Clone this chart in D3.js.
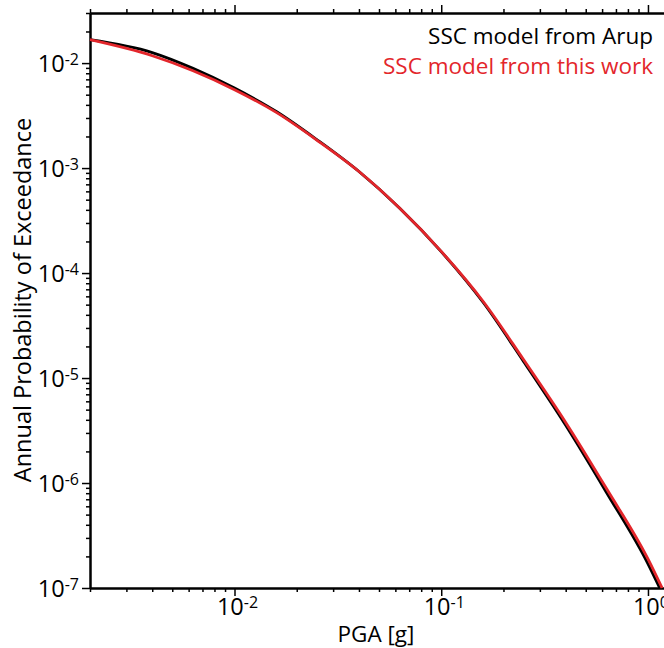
<!DOCTYPE html>
<html>
<head>
<meta charset="utf-8">
<script src="https://cdn.jsdelivr.net/npm/d3@7"></script>
<style>
  body { margin: 0; background: #fff; }
  svg { display: block; }
  text { font-family: "Open Sans", sans-serif; }
</style>
</head>
<body>
<svg id="chart" width="664" height="648"></svg>
<script>
// hazard curves
var pgaArup = [0.002, 0.004, 0.0063, 0.01, 0.016, 0.025, 0.04, 0.063, 0.1, 0.16, 0.25, 0.4, 0.63, 1.0, 1.14];
var apeArup = [0.0167, 0.0126, 0.00891, 0.00578, 0.00344, 0.00187, 9.27e-4, 4.14e-4, 1.60e-4, 5.21e-5, 1.44e-5, 3.55e-6, 8.13e-7, 1.70e-7, 1.0e-7];
var pgaWork = [0.002, 0.004, 0.0063, 0.01, 0.016, 0.025, 0.04, 0.063, 0.1, 0.16, 0.25, 0.4, 0.63, 1.0, 1.17];
var apeWork = [0.0167, 0.01175, 0.00845, 0.00558, 0.00337, 0.00185, 9.27e-4, 4.14e-4, 1.61e-4, 5.33e-5, 1.50e-5, 3.78e-6, 8.85e-7, 1.89e-7, 1.0e-7];

var xMajor = [-2, -1, 0];
var yMajor = [-7, -6, -5, -4, -3, -2];
var legendLabels = ["SSC model from Arup", "SSC model from this work"];
var colors = ["#000000", "#e3262b"];

(function(){
  var svg = d3.select("#chart");
  var mLeft = 90, mTop = 13, mBottom = 588, mRight = 668;

  var x = d3.scaleLog().domain([0.002, 1.25]).range([mLeft, mRight]);
  var y = d3.scaleLog().domain([1e-7, 0.03]).range([mBottom, mTop]);

  // minor tick values
  function minors(scale) {
    var d = scale.domain(), out = [];
    for (var e = -8; e <= 1; e++) {
      for (var m = 2; m <= 9; m++) {
        var v = m * Math.pow(10, e);
        if (v >= d[0] && v <= d[1]) out.push(v);
      }
    }
    return out;
  }
  var xMaj = xMajor.map(function(e){ return Math.pow(10, e); });
  var yMaj = yMajor.map(function(e){ return Math.pow(10, e); });

  function drawAxis(axisFn, scale, majors, tr) {
    var g = svg.append("g").attr("transform", tr);
    g.call(axisFn(scale).tickValues(minors(scale)).tickSize(4).tickSizeOuter(0).tickFormat(""));
    var g2 = svg.append("g").attr("transform", tr);
    g2.call(axisFn(scale).tickValues(majors).tickSize(8).tickSizeOuter(0).tickFormat(""));
    [g, g2].forEach(function(s){
      s.select(".domain").attr("stroke-width", 2).attr("stroke", "#000");
      s.selectAll(".tick line").attr("stroke-width", 1.5).attr("stroke", "#000");
    });
  }
  drawAxis(d3.axisBottom, x, xMaj, "translate(0," + mBottom + ")");
  drawAxis(d3.axisTop, x, xMaj, "translate(0," + mTop + ")");
  drawAxis(d3.axisLeft, y, yMaj, "translate(" + mLeft + ",0)");
  drawAxis(d3.axisRight, y, yMaj, "translate(" + mRight + ",0)");

  // tick labels with superscripts
  function powLabel(sel, e) {
    sel.append("tspan").text("10");
    sel.append("tspan").attr("font-size", 16).attr("dy", -7).text(e < 0 ? "-" + (-e) : String(e));
  }
  xMajor.forEach(function(e){
    var t = svg.append("text").attr("x", x(Math.pow(10, e)) + 3).attr("y", 615)
      .attr("text-anchor", "middle").attr("font-size", 23.5);
    powLabel(t, e);
  });
  yMajor.forEach(function(e){
    var t = svg.append("text").attr("x", 79).attr("y", y(Math.pow(10, e)) + 8.5)
      .attr("text-anchor", "end").attr("font-size", 23.5);
    powLabel(t, e);
  });

  // axis titles
  svg.append("text").attr("x", 376).attr("y", 642).attr("text-anchor", "middle")
    .attr("font-size", 22.5).text("PGA [g]");
  svg.append("text").attr("transform", "translate(31,300) rotate(-90)").attr("text-anchor", "middle")
    .attr("font-size", 23.5).text("Annual Probability of Exceedance");

  // curves
  var line = d3.line().x(function(d){ return x(d[0]); }).y(function(d){ return y(d[1]); })
    .curve(d3.curveMonotoneX);
  var series = [d3.zip(pgaArup, apeArup), d3.zip(pgaWork, apeWork)];
  svg.append("g").selectAll("path").data(series).join("path")
    .attr("d", line).attr("fill", "none")
    .attr("stroke", function(d, i){ return colors[i]; })
    .attr("stroke-width", 2.8);

  // legend
  svg.append("g").selectAll("text").data(legendLabels).join("text")
    .attr("x", 653).attr("y", function(d, i){ return 44 + i * 30; })
    .attr("text-anchor", "end").attr("font-size", 22.5)
    .attr("fill", function(d, i){ return colors[i]; })
    .text(function(d){ return d; });
})();
</script>
</body>
</html>
